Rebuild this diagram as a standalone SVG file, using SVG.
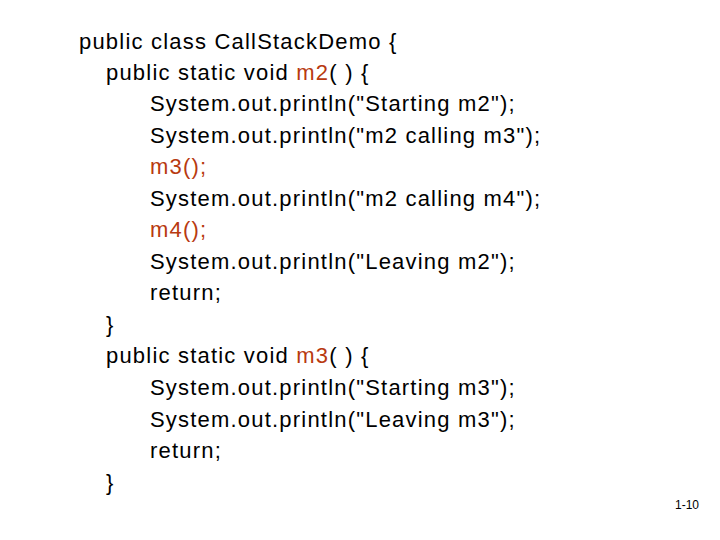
<svg xmlns="http://www.w3.org/2000/svg" width="720" height="540" viewBox="0 0 720 540">
<style>
text{font-family:"Liberation Sans",Arial,sans-serif;font-size:22px;letter-spacing:1.2px;fill:#000}
.r{fill:#B83A10}
.s{font-size:12px;letter-spacing:0}
</style>
<rect width="720" height="540" fill="#fff"/>
<g id="code">
<text x="79" y="49">public class CallStackDemo  {</text>
<text x="106" y="80">public static void <tspan class="r">m2</tspan>( ) {</text>
<text x="150" y="111">System.out.println("Starting m2");</text>
<text x="150" y="143">System.out.println("m2 calling m3");</text>
<text x="150" y="174" class="r">m3();</text>
<text x="150" y="206">System.out.println("m2 calling m4");</text>
<text x="150" y="237" class="r">m4();</text>
<text x="150" y="269">System.out.println("Leaving m2");</text>
<text x="150" y="300">return;</text>
<text x="106" y="332">}</text>
<text x="106" y="363">public static void <tspan class="r">m3</tspan>( ) {</text>
<text x="150" y="395">System.out.println("Starting m3");</text>
<text x="150" y="427">System.out.println("Leaving m3");</text>
<text x="150" y="458">return;</text>
<text x="106" y="490">}</text>
<text x="675" y="509" class="s">1-10</text>
</g>
</svg>
